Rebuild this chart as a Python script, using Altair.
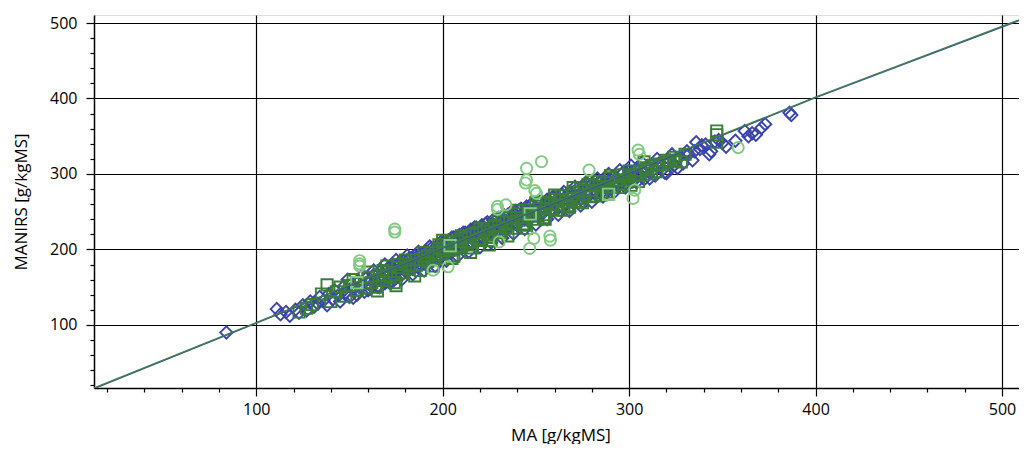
import altair as alt
import pandas as pd

# ---- data ----
blue_x = [84, 111, 113, 116, 118, 121, 123, 125, 127, 129, 131, 133, 134, 136, 138, 139, 141, 142, 144, 145,
          147, 148, 150, 151, 152, 154, 155, 156, 158, 159, 160, 161, 163, 164, 165, 166, 167, 169, 170, 171,
          172, 173, 174, 175, 176, 177, 178, 179, 180, 181, 182, 183, 184, 185, 186, 187, 188, 189, 190, 191,
          192, 193, 194, 195, 196, 197, 198, 199, 200, 201, 202, 203, 204, 205, 206, 207, 208, 209, 210, 211,
          212, 213, 214, 215, 216, 217, 218, 219, 220, 221, 222, 223, 224, 225, 226, 227, 228, 229, 230, 231,
          232, 233, 234, 235, 236, 237, 238, 239, 240, 241, 242, 243, 244, 245, 246, 247, 248, 249, 250, 252,
          253, 254, 256, 257, 258, 260, 261, 262, 264, 265, 266, 268, 269, 270, 272, 273, 274, 276, 277, 278,
          280, 281, 282, 284, 285, 286, 288, 289, 290, 292, 293, 294, 296, 297, 298, 300, 301, 302, 304, 306,
          308, 310, 312, 314, 316, 318, 320, 322, 324, 327, 329, 332, 335, 336, 338, 341, 344, 348, 350, 352,
          357, 362, 364, 366, 368, 371, 373, 386, 387,
          149, 152, 157, 160, 163, 166, 169, 172, 175, 178, 181, 184, 187, 190, 193, 196, 199, 202, 205, 208,
          211, 214, 217, 220, 223, 226, 229, 232, 235, 238, 241, 244, 247, 250, 253, 256, 259, 262, 265, 268,
          271, 274, 277, 280, 283, 286, 289, 292, 295, 298, 301, 304, 307, 311, 315, 319, 323, 326, 331, 334,
          339, 343, 346,
          171, 174, 177, 180, 183, 186, 189, 192, 195, 198, 201, 204, 207, 210, 213, 216, 219, 222, 225, 228,
          231, 234, 237, 240, 243, 246, 249, 252, 255, 258, 261, 264, 267, 270, 273, 276, 279, 282, 285, 288,
          291, 294, 297, 300]
blue_y = [90, 121, 114, 117, 112, 120, 116, 126, 119, 131, 124, 128, 137, 132, 126, 141, 134, 146, 139, 131,
          151, 143, 137, 154, 147, 140, 158, 150, 144, 162, 155, 148, 166, 158, 151, 170, 162, 155, 173, 166,
          158, 177, 170, 162, 181, 174, 166, 185, 177, 170, 188, 181, 174, 192, 184, 177, 195, 188, 181, 198,
          191, 184, 202, 195, 187, 205, 198, 190, 209, 201, 194, 212, 205, 197, 216, 208, 200, 219, 212, 204,
          222, 215, 207, 226, 218, 211, 229, 222, 214, 232, 225, 217, 236, 228, 221, 239, 232, 224, 242, 235,
          228, 245, 238, 231, 248, 241, 234, 251, 244, 237, 254, 247, 240, 257, 250, 243, 260, 253, 246, 263,
          256, 249, 266, 259, 252, 269, 262, 255, 273, 266, 259, 276, 269, 262, 280, 272, 266, 283, 276, 270,
          287, 280, 273, 290, 283, 277, 294, 287, 280, 297, 290, 284, 300, 293, 287, 304, 296, 290, 307, 299,
          293, 311, 303, 298, 314, 306, 301, 318, 311, 322, 314, 326, 330, 342, 333, 339, 330, 345, 341, 336,
          344, 357, 350, 354, 352, 361, 366, 381, 378,
          160, 136, 166, 146, 172, 150, 180, 155, 186, 160, 192, 167, 197, 172, 204, 178, 210, 185, 216, 191,
          222, 197, 229, 203, 234, 209, 240, 215, 246, 221, 252, 227, 259, 233, 264, 240, 270, 246, 276, 251,
          283, 258, 289, 263, 294, 270, 300, 276, 305, 282, 311, 289, 315, 294, 320, 302, 326, 308, 330, 318,
          338, 326, 343,
          176, 166, 182, 172, 188, 178, 194, 184, 200, 190, 206, 196, 212, 202, 218, 208, 224, 214, 230, 220,
          236, 226, 242, 232, 248, 238, 254, 244, 260, 250, 266, 256, 272, 262, 278, 268, 284, 274, 290, 280,
          296, 286, 302, 292]

dkgreen_x = [123, 127, 130, 135, 138, 140, 143, 145, 148, 150, 152, 154, 156, 158, 160, 162, 164, 166, 168, 170,
             172, 174, 176, 178, 180, 182, 184, 186, 188, 190, 192, 194, 196, 198, 200, 202, 204, 206, 208, 210,
             212, 214, 216, 218, 220, 222, 224, 226, 228, 230, 232, 234, 236, 238, 240, 242, 244, 246, 248, 250,
             252, 254, 256, 258, 260, 262, 264, 266, 268, 270, 272, 274, 276, 278, 280, 282, 284, 286, 288, 290,
             293, 296, 299, 301, 304, 308, 312, 315, 321, 328, 347, 347, 347,
             160, 165, 170, 175, 180, 185, 190, 195, 200, 205, 210, 215, 220, 225, 230, 235, 240, 245, 250, 255,
             260, 265, 270, 275, 280, 285, 290, 295, 300, 305, 310, 318, 325,
             198, 201, 204, 207, 210, 213, 216, 219, 222, 225, 228, 231, 234, 237, 240, 243, 246, 249, 252, 255,
             258, 261, 264, 267, 270, 273, 276, 279, 282, 285, 288, 291, 294, 297, 300, 303, 306, 309, 312, 316,
             320, 324, 330, 168, 172, 176, 182, 188, 192]
dkgreen_y = [117, 122, 127, 141, 153, 131, 144, 150, 138, 152, 160, 146, 155, 149, 163, 156, 150, 166, 159, 170,
             163, 156, 176, 169, 181, 174, 186, 179, 172, 190, 184, 196, 188, 201, 194, 206, 199, 191, 211, 204,
             216, 209, 202, 222, 214, 227, 219, 212, 232, 224, 237, 229, 242, 234, 247, 239, 232, 252, 244, 257,
             250, 242, 262, 254, 266, 259, 271, 263, 256, 276, 268, 281, 273, 286, 278, 271, 290, 283, 276, 295,
             287, 299, 292, 285, 298, 316, 300, 303, 316, 316, 342, 352, 357,
             170, 145, 178, 152, 186, 165, 196, 178, 212, 188, 218, 196, 228, 206, 240, 218, 252, 228, 262, 240,
             272, 252, 282, 262, 290, 272, 298, 282, 304, 290, 306, 312, 318,
             206, 198, 210, 202, 214, 206, 220, 212, 224, 216, 230, 222, 236, 228, 242, 234, 248, 240, 254, 246,
             260, 252, 266, 258, 272, 264, 278, 270, 284, 276, 288, 282, 292, 286, 296, 300, 304, 308, 311, 313,
             318, 322, 326, 172, 166, 180, 178, 186, 192]

ltsq_x = [154, 204, 247, 289]
ltsq_y = [156, 205, 247, 273]

circ_x = [155.5, 155.5, 155.5, 174.3, 174.3, 194.9, 202.9, 229.4, 229.4, 233.9, 230.3, 244.4, 245, 245,
          250.3, 249.4, 253, 246.7, 248.9, 257.5, 257.8, 278.5, 304.8, 305.5, 302.1, 303, 358.5]
circ_y = [185, 181, 178, 227, 223, 172.5, 177, 257, 253, 259, 210, 288, 307.4, 292,
          274.3, 278, 316.2, 201.3, 214.6, 217.6, 212.3, 305.2, 331.7, 326, 267.6, 278.6, 335]

# fitted lines (green on top of a blue one)
gline_x = [13, 400, 513.4]
gline_y = [16.4, 401.9, 508]
bline_x = [13, 400, 513.4]
bline_y = [15.6, 401.0, 507.2]

x_ticks = list(range(20, 520, 20))
y_ticks = list(range(20, 520, 20))

X_DOMAIN = [13, 513.4]
Y_DOMAIN = [16.4, 510.6]

BLUE = "#3a44aa"
DKGREEN = "#3a7d3a"
LTGREEN = "#82ca82"
GLINE = "#3f7f4f"
FONT = "Open Sans"

major = "datum.value % 100 === 0"


def make_axis(values, title, label_pad, title_pad):
    return alt.Axis(
        values=values, title=title,
        labelExpr=f"{major} ? datum.label : ''", labelOverlap=False,
        grid=True, gridColor="black", gridWidth=1.2,
        gridOpacity={"condition": {"test": major, "value": 1}, "value": 0},
        tickSize=8, tickColor="black", tickWidth=1.2,
        tickDash={"condition": {"test": major, "value": [10, 0]}, "value": [4, 30]},
        domainColor="black", domainWidth=1.5,
        labelFont=FONT, labelFontSize=16, labelColor="black", labelPadding=label_pad,
        titleFont=FONT, titleFontSize=17, titleFontWeight="normal", titleColor="black",
        titlePadding=title_pad,
    )


xs = alt.Scale(domain=X_DOMAIN, nice=False, zero=False)
ys = alt.Scale(domain=Y_DOMAIN, nice=False, zero=False)
XENC = dict(scale=xs, axis=make_axis(x_ticks, "MA [g/kgMS]", 5, 10))
YENC = dict(scale=ys, axis=make_axis(y_ticks, "MANIRS [g/kgMS]", 9, 19))


def pts(xv, yv, shape, color, size):
    df = pd.DataFrame({"x": xv, "y": yv})
    return alt.Chart(df).mark_point(shape=shape, filled=False, color=color, size=size,
                                    strokeWidth=1.9, opacity=1).encode(
        x=alt.X("x:Q", **XENC),
        y=alt.Y("y:Q", **YENC),
    )


def line(xv, yv, color):
    return alt.Chart(pd.DataFrame({"x": xv, "y": yv})).mark_line(
        color=color, strokeWidth=1.4, clip=True).encode(
        x=alt.X("x:Q", **XENC),
        y=alt.Y("y:Q", **YENC),
    )


blue = pts(blue_x, blue_y, "diamond", BLUE, 150)
dk = pts(dkgreen_x, dkgreen_y, "square", DKGREEN, 125)
lsq = pts(ltsq_x, ltsq_y, "square", LTGREEN, 130)
circ = pts(circ_x, circ_y, "circle", LTGREEN, 125)

chart = alt.layer(blue, dk, lsq, circ, line(bline_x, bline_y, BLUE), line(gline_x, gline_y, GLINE)).properties(
    width=933, height=373,
    autosize=alt.AutoSizeParams(type="none"),
    padding={"left": 86, "top": 7, "right": -8, "bottom": 56},
).configure_view(stroke="black", strokeWidth=1.5).configure(background="white")

chart.save("out.html", embed_options={"renderer": "svg", "actions": False})
